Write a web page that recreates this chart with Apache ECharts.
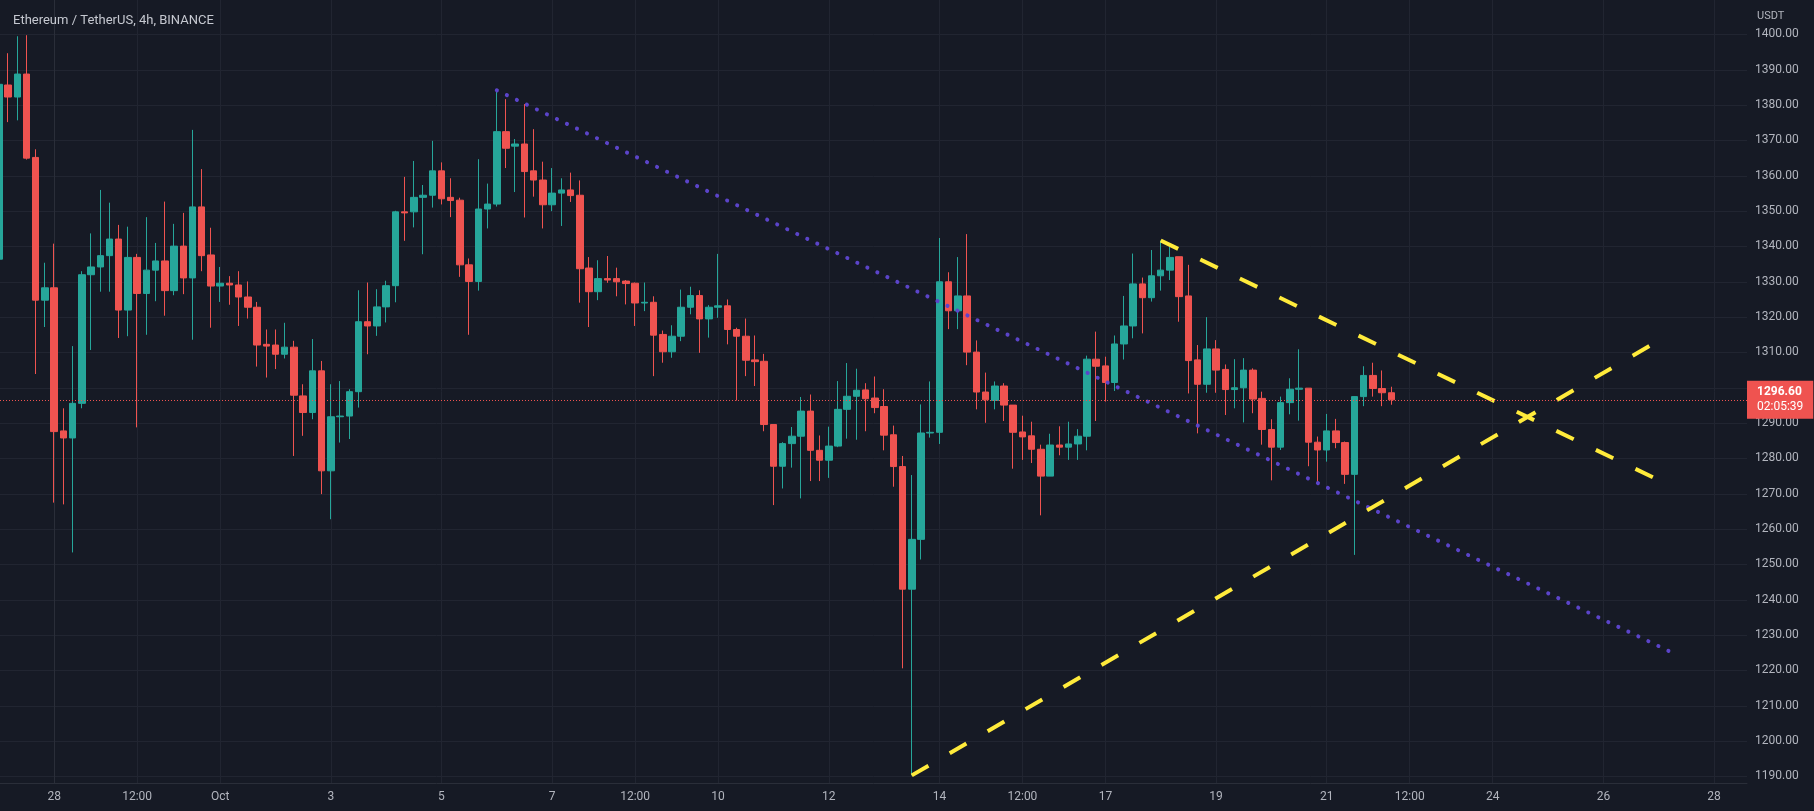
<!DOCTYPE html>
<html>
<head>
<meta charset="utf-8">
<script src="https://cdn.jsdelivr.net/npm/echarts@6/dist/echarts.min.js"></script>
<style>
html,body{margin:0;padding:0;background:#161a25;}
#chart{width:1814px;height:811px;}
</style>
</head>
<body>
<div id="chart"></div>
<script>
// ---------- data ----------
const chartTitle = 'Ethereum / TetherUS, 4h, BINANCE';
const quoteUnit = 'USDT';
const countdown = '02:05:39';
// bar times are hours relative to 28 Sep 00:00, one bar every 4 h
const firstBarHour = -24;
const barHours = 4;

const openP = [1336.4,1385.7,1382.3,1388.8,1365.2,1324.8,1328.3,1287.8,1285.8,1295.6,
1332.0,1334.2,1337.4,1342.1,1322.0,1336.9,1326.7,1333.3,1335.9,1327.5,
1340.1,1331.1,1351.2,1337.6,1328.8,1329.6,1329.1,1325.7,1322.8,1312.3,
1312.1,1309.5,1311.5,1297.7,1293.0,1304.8,1276.5,1291.8,1292.0,1298.9,
1318.7,1317.5,1322.9,1328.9,1349.8,1349.8,1353.9,1354.5,1361.4,1353.9,
1353.1,1334.8,1330.1,1350.6,1352.0,1372.5,1368.4,1369.0,1361.4,1358.8,
1351.8,1355.1,1356.0,1354.5,1333.9,1327.2,1330.9,1330.9,1330.2,1329.6,
1324.0,1324.2,1315.1,1310.2,1314.6,1322.8,1326.1,1319.5,1322.8,1323.2,
1316.5,1314.6,1307.9,1307.5,1289.6,1277.8,1284.2,1286.3,1293.4,1282.3,
1279.5,1283.5,1293.9,1297.6,1299.4,1297.1,1294.7,1286.7,1277.7,1243.0,
1257.1,1287.2,1287.4,1330.0,1321.8,1326.0,1310.1,1298.8,1296.4,1300.5,
1295.1,1287.5,1286.4,1282.6,1275.0,1283.8,1283.2,1284.1,1286.3,1308.1,
1306.2,1301.5,1312.4,1317.5,1329.4,1325.5,1331.7,1333.3,1337.1,1326.0,
1307.9,1301.0,1311.0,1305.2,1299.5,1300.0,1305.0,1297.0,1288.2,1283.2,
1295.8,1299.6,1299.9,1284.6,1282.4,1287.8,1284.5,1275.5,1297.5,1303.5,
1299.8,1298.6];

const closeP = [1385.9,1382.3,1388.8,1365.0,1324.8,1328.3,1287.6,1285.8,1295.6,1332.0,
1334.2,1337.4,1342.1,1322.0,1336.9,1326.7,1333.3,1335.9,1327.5,1340.1,
1331.1,1351.2,1337.4,1328.8,1329.6,1329.1,1325.7,1322.8,1312.1,1311.8,
1309.5,1311.5,1297.9,1293.0,1304.8,1276.5,1291.8,1292.0,1298.9,1318.7,
1317.5,1322.9,1328.9,1349.8,1349.5,1353.9,1354.5,1361.4,1353.5,1353.0,
1334.8,1330.1,1350.6,1352.0,1372.5,1367.8,1369.0,1361.2,1358.8,1351.8,
1355.1,1356.0,1354.4,1333.7,1327.2,1330.9,1330.5,1330.0,1329.5,1324.0,
1324.2,1314.9,1310.2,1314.6,1322.8,1326.1,1319.5,1322.8,1323.2,1316.5,
1314.6,1307.8,1307.4,1289.6,1277.8,1284.2,1286.3,1293.4,1282.3,1279.5,
1283.5,1293.9,1297.6,1299.3,1296.9,1294.4,1286.6,1277.7,1243.0,1257.1,
1287.2,1287.4,1330.0,1321.8,1326.0,1310.1,1298.8,1296.6,1300.5,1295.1,
1287.4,1286.1,1282.6,1275.0,1283.8,1283.2,1284.1,1286.3,1308.1,1306.1,
1301.5,1312.4,1317.5,1329.4,1325.5,1331.7,1333.3,1336.9,1325.8,1307.7,
1301.0,1311.0,1305.0,1299.5,1300.0,1305.0,1296.8,1288.2,1283.2,1295.8,
1299.6,1299.9,1284.6,1282.4,1287.8,1284.5,1275.5,1297.5,1303.5,1299.8,
1298.6,1296.6];

const highP = [1390.0,1394.7,1399.5,1399.8,1367.5,1335.4,1340.8,1294.2,1311.8,1333.0,
1343.7,1356.0,1352.4,1346.1,1345.6,1337.9,1348.3,1341.0,1352.7,1346.4,
1349.5,1373.0,1361.9,1345.3,1334.2,1331.6,1333.0,1330.1,1324.3,1316.5,
1316.5,1318.4,1313.3,1301.0,1313.8,1307.6,1301.0,1301.9,1299.6,1327.6,
1329.8,1327.9,1330.3,1350.1,1359.7,1364.2,1357.4,1369.9,1363.8,1359.3,
1353.8,1336.6,1364.7,1357.8,1384.2,1381.7,1370.4,1380.3,1373.2,1364.0,
1362.2,1359.3,1360.9,1358.7,1337.0,1336.1,1337.3,1334.0,1330.5,1329.8,
1329.8,1325.9,1316.2,1317.7,1327.8,1328.6,1327.6,1323.4,1337.9,1325.0,
1317.0,1319.6,1314.8,1309.6,1289.6,1284.6,1288.9,1297.4,1298.1,1286.5,
1289.0,1301.9,1307.0,1305.4,1301.3,1303.2,1299.6,1289.3,1280.7,1275.3,
1295.3,1301.8,1342.4,1332.7,1337.0,1343.5,1313.4,1304.3,1301.8,1301.3,
1295.1,1292.1,1290.4,1283.9,1287.0,1289.1,1290.4,1288.3,1309.1,1315.9,
1308.8,1314.8,1326.0,1338.0,1331.2,1339.0,1341.7,1340.0,1337.1,1334.8,
1312.1,1320.0,1313.5,1306.6,1308.1,1308.4,1305.5,1298.9,1291.1,1297.5,
1302.7,1310.9,1299.9,1286.2,1292.6,1291.2,1284.8,1297.6,1306.1,1307.1,
1304.9,1300.3];

const lowP = [1334.0,1375.2,1375.7,1364.6,1303.9,1317.2,1267.5,1267.0,1253.4,1294.2,
1310.7,1327.2,1327.2,1314.1,1314.6,1288.8,1315.0,1324.5,1320.4,1326.2,
1326.5,1313.6,1333.0,1317.0,1324.3,1323.5,1317.5,1319.6,1306.0,1302.9,
1305.3,1308.3,1280.7,1286.4,1291.1,1269.9,1262.8,1284.5,1285.5,1294.4,
1309.5,1314.7,1318.5,1324.2,1341.6,1345.4,1337.8,1351.0,1351.9,1348.3,
1331.4,1315.0,1327.5,1345.1,1351.3,1362.2,1355.4,1348.2,1354.1,1345.1,
1350.0,1345.8,1352.6,1324.1,1317.2,1324.8,1329.7,1325.9,1323.6,1317.5,
1321.7,1303.3,1307.1,1308.5,1313.2,1320.8,1309.9,1314.2,1319.8,1312.3,
1296.4,1303.3,1300.5,1287.7,1266.8,1271.5,1277.4,1268.7,1273.6,1273.6,
1274.5,1283.2,1285.6,1285.3,1287.7,1292.8,1282.3,1272.0,1220.6,1190.3,
1251.4,1285.9,1284.1,1316.6,1316.6,1306.4,1293.9,1290.1,1293.9,1290.6,
1277.1,1279.6,1278.7,1263.9,1275.0,1280.9,1279.6,1279.6,1282.3,1290.6,
1296.1,1299.1,1308.0,1314.0,1315.4,1324.4,1327.5,1330.5,1318.7,1298.4,
1287.1,1298.6,1298.6,1292.3,1294.2,1290.2,1292.8,1283.9,1273.8,1282.4,
1292.5,1290.7,1277.8,1272.5,1279.1,1282.9,1272.8,1252.7,1294.8,1297.5,
1294.8,1295.2];

// time axis ticks (hours from 28 Sep 00:00) and their labels
const timeTickHours  = [0, 36, 72, 120, 168, 216, 252, 288, 336, 384, 420, 456, 504, 552, 588, 624, 672, 720];
const timeTickLabels = ['28','12:00','Oct','3','5','7','12:00','10','12','14','12:00','17','19','21','12:00','24','26','28'];
// price axis ticks
const priceTicks = [1190,1200,1210,1220,1230,1240,1250,1260,1270,1280,1290,1300,1310,1320,1330,1340,1350,1360,1370,1380,1390,1400];

// drawn trend lines: [hour, price] end points
const trendPurple   = [[192, 1384.2], [700.7, 1225.4]];
const trendYellowDn = [[480, 1341.7], [694.0, 1274.5]];
const trendYellowUp = [[372, 1190.3], [692.2, 1311.9]];

// visible ranges
const xRange = [-23.5, 734.3];
const yRange = [1188.14, 1409.76];

// ---------- chart ----------
const FONT = 'Roboto, "Noto Sans", sans-serif';
const candles = openP.map((o, i) => [firstBarHour + i * barHours, o, closeP[i], lowP[i], highP[i]]);
const lastClose = closeP[closeP.length - 1];

const chart = echarts.init(document.getElementById('chart'), null, {renderer: 'canvas'});
chart.setOption({
  animation: false,
  backgroundColor: '#161a25',
  title: [
    {text: chartTitle, left: 8, top: 9,
     textStyle: {color: '#c5c8d0', fontSize: 13, fontWeight: 'normal', fontFamily: FONT}},
    {text: quoteUnit, left: 1752, top: 6,
     textStyle: {color: '#b2b5be', fontSize: 11, fontWeight: 'normal', fontFamily: FONT}}
  ],
  grid: {left: 0, right: 67, top: 0, bottom: 28, containLabel: false},
  xAxis: {
    type: 'value', min: xRange[0], max: xRange[1],
    axisLine: {show: true, lineStyle: {color: '#2a2e39', width: 1}},
    axisTick: {show: false, customValues: timeTickHours},
    axisLabel: {
      customValues: timeTickHours, color: '#b2b5be', fontSize: 12, fontFamily: FONT, margin: 8,
      formatter: v => { const k = timeTickHours.indexOf(Math.round(v)); return k >= 0 ? timeTickLabels[k] : ''; }
    },
    splitLine: {show: true, lineStyle: {color: '#212531', width: 1}}
  },
  yAxis: {
    type: 'value', position: 'right', min: yRange[0], max: yRange[1], scale: true,
    axisLine: {show: true, lineStyle: {color: '#2a2e39', width: 1}},
    axisTick: {show: false, customValues: priceTicks},
    axisLabel: {
      customValues: priceTicks, color: '#b2b5be', fontSize: 12, fontFamily: FONT, margin: 8,
      formatter: v => Number(v).toFixed(2)
    },
    splitLine: {show: true, lineStyle: {color: '#212531', width: 1}}
  },
  series: [
    {
      type: 'candlestick',
      data: candles,
      barWidth: 7,
      itemStyle: {
        color: '#26a69a', color0: '#ef5350',
        borderColor: '#26a69a', borderColor0: '#ef5350', borderWidth: 1
      },
      z: 2,
      markLine: {
        silent: true, symbol: ['none', 'none'], animation: false,
        lineStyle: {color: '#ef5350', type: [1, 2], width: 1},
        label: {
          show: true, position: 'end', distance: 0,
          formatter: () => '{p|' + lastClose.toFixed(2) + '}\n{t|' + countdown + '}',
          backgroundColor: '#ef5350', padding: [4, 10, 4, 10],
          rich: {
            p: {color: '#ffffff', fontSize: 12, fontWeight: 'bold', lineHeight: 15, fontFamily: FONT},
            t: {color: '#ffffff', fontSize: 12, lineHeight: 15, fontFamily: FONT}
          }
        },
        data: [{yAxis: lastClose}]
      }
    },
    {
      type: 'line', data: trendPurple, symbol: 'none', silent: true, z: 4,
      lineStyle: {color: '#5b44c9', width: 4, type: [0.1, 11], cap: 'round'}
    },
    {
      type: 'line', data: trendYellowDn, symbol: 'none', silent: true, z: 4,
      lineStyle: {color: '#ffeb3b', width: 4, type: [19.3, 24.6], cap: 'butt'}
    },
    {
      type: 'line', data: trendYellowUp, symbol: 'none', silent: true, z: 4,
      lineStyle: {color: '#ffeb3b', width: 4, type: [19.3, 24.6], cap: 'butt'}
    }
  ]
});
</script>
</body>
</html>
